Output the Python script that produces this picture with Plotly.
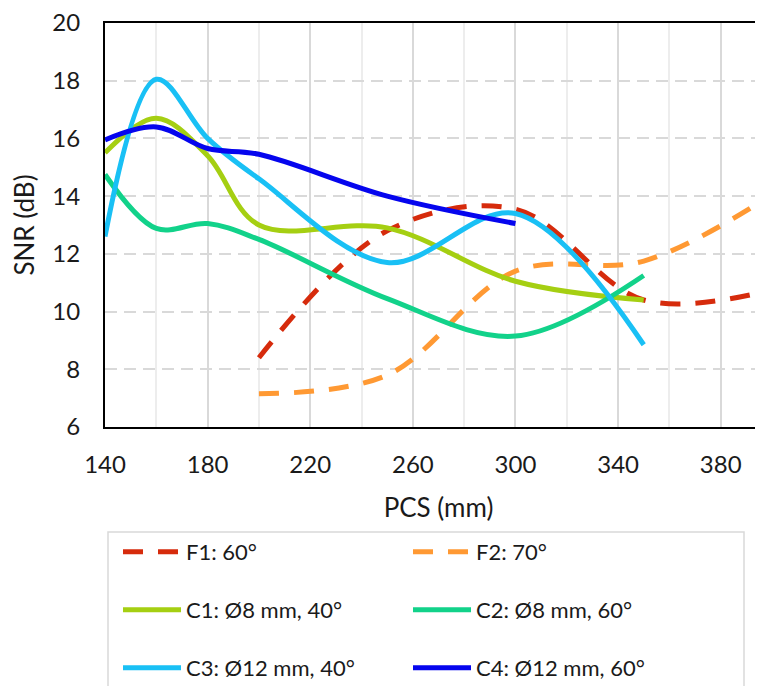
import plotly.graph_objects as go

# ---- data ----
pcs_f = [200, 250, 300, 350, 400]
f1_snr = [8.4, 12.8, 13.55, 10.4, 10.75]
f2_snr = [7.15, 7.8, 11.4, 11.75, 14.05]

pcs_c = [140, 160, 180, 200, 250, 300, 350]
c1_snr = [15.5, 16.7, 15.4, 13.0, 12.9, 11.05, 10.4]
c2_snr = [14.75, 12.88, 13.05, 12.5, 10.45, 9.15, 11.25]
c3_snr = [12.6, 18.05, 16.0, 14.6, 11.7, 13.4, 8.85]

pcs_c4 = [140, 160, 180, 200, 250, 300]
c4_snr = [15.95, 16.4, 15.65, 15.45, 14.0, 13.05]

x_ticks = [140, 180, 220, 260, 300, 340, 380]
y_ticks = [6, 8, 10, 12, 14, 16, 18, 20]

names = ["F1: 60°", "F2: 70°", "C1: Ø8 mm, 40°", "C2: Ø8 mm, 60°",
         "C3: Ø12 mm, 40°", "C4: Ø12 mm, 60°"]
colors = ["#D62B0C", "#FF9933", "#A5CF12", "#12D28A", "#19C0F5", "#0505EE"]

FONT = "Lato"
TXT = "#1a1a1a"
# page body has an 8px margin; the chart's right edge runs past the window like the reference
W, H = 764, 678
ML, MR, MT, MB = 97, 0, 15, 259
ph = H - MT - MB


def py(pix):
    return (H - MB - pix) / ph


def px(pix):
    return (pix - ML) / (W - ML - MR)


fig = go.Figure()
series = [
    (pcs_f, f1_snr, "20px,15px", "legend"),
    (pcs_f, f2_snr, "20px,15px", "legend"),
    (pcs_c, c1_snr, "solid", "legend2"),
    (pcs_c, c2_snr, "solid", "legend2"),
    (pcs_c, c3_snr, "solid", "legend3"),
    (pcs_c4, c4_snr, "solid", "legend3"),
]
for (xs, ys, dash, lg), nm, col in zip(series, names, colors):
    fig.add_trace(go.Scatter(
        x=xs, y=ys, mode="lines", name=nm, legend=lg,
        line=dict(color=col, width=5, dash=dash, shape="spline", smoothing=1.0),
        hoverinfo="skip",
    ))

leg_common = dict(orientation="h", xanchor="left", yanchor="middle",
                  font=dict(family=FONT, size=22, color=TXT),
                  bgcolor="rgba(0,0,0,0)", entrywidth=217, entrywidthmode="pixels",
                  itemwidth=58, itemclick=False, itemdoubleclick=False)
fig.update_layout(
    width=W, height=H,
    margin=dict(l=ML, r=MR, t=MT, b=MB, pad=0, autoexpand=False),
    paper_bgcolor="white", plot_bgcolor="white",
    font=dict(family=FONT, size=22, color=TXT),
    showlegend=True,
    legend=dict(x=px(110), y=py(544), **leg_common),
    legend2=dict(x=px(110), y=py(602), **leg_common),
    legend3=dict(x=px(110), y=py(660), **leg_common),
    xaxis=dict(
        range=[140, 400], tickvals=x_ticks, ticktext=[str(v) for v in x_ticks],
        showgrid=True, gridcolor="#D9D9D9", gridwidth=1.5,
        minor=dict(tickvals=list(range(160, 400, 40)), showgrid=True,
                   gridcolor="#EDEDED", gridwidth=1.5),
        showline=True, linecolor="black", linewidth=2, mirror=True,
        ticks="", ticklabelstandoff=15, zeroline=False, ticklabeloverflow="allow",
        tickfont=dict(family=FONT, size=24, color=TXT),
        title=dict(text="PCS (mm)", standoff=22,
                   font=dict(family=FONT, size=26, color=TXT)),
    ),
    yaxis=dict(
        range=[6, 20], tickvals=y_ticks, ticktext=[str(v) for v in y_ticks],
        showgrid=True, gridcolor="#D9D9D9", gridwidth=1.5, griddash="12px,7px",
        showline=True, linecolor="black", linewidth=2, mirror=False,
        ticks="", ticklabelstandoff=18, zeroline=False, ticklabeloverflow="allow",
        tickfont=dict(family=FONT, size=24, color=TXT),
        title=dict(text="SNR (dB)", standoff=10,
                   font=dict(family=FONT, size=26, color=TXT)),
    ),
    shapes=[dict(type="rect", xref="paper", yref="paper",
                 x0=px(100), x1=px(736), y0=py(524), y1=py(720),
                 line=dict(color="#D9D9D9", width=1.5), fillcolor="rgba(0,0,0,0)",
                 layer="below")],
)

fig.write_html("out.html")
